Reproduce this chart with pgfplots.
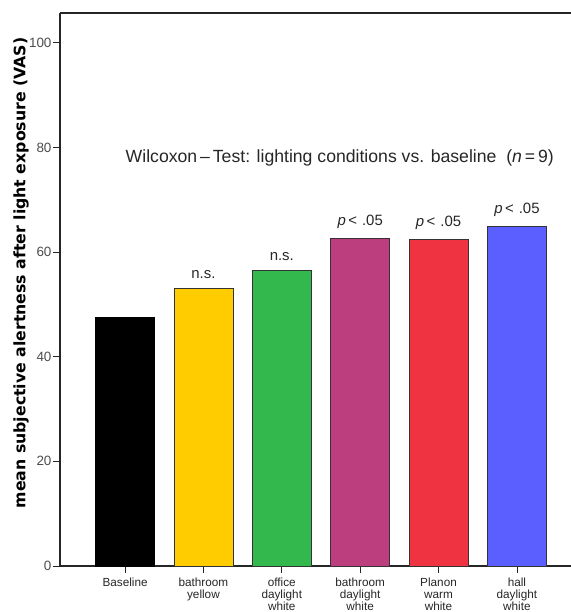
\documentclass[border=0pt]{standalone}
\usepackage{pgfplots}
\pgfplotsset{compat=1.18}
\usepackage{fontspec}
\setmainfont{Liberation Sans}
\newfontfamily\labfont{DejaVu Sans}
\definecolor{cyel}{HTML}{FFCC00}
\definecolor{cgrn}{HTML}{32B84C}
\definecolor{cmag}{HTML}{BD3E7E}
\definecolor{cred}{HTML}{EF3340}
\definecolor{cblu}{HTML}{5B5FFF}
\begin{document}
\begin{tikzpicture}
\useasboundingbox (-60bp,-46bp) rectangle (511bp,566bp);
\clip (-60bp,-46bp) rectangle (511bp,566bp);
\begin{axis}[
  at={(0,0)}, anchor=south west,
  scale only axis, width=511bp, height=553bp,
  xmin=-0.83, xmax=5.69, ymin=0, ymax=105.7,
  axis x line=bottom, axis y line=left,
  axis line style={-, line width=1.3pt, black!85},
  ytick={0,20,40,60,80,100},
  xtick={0,1,2,3,4,5},
  xticklabels={Baseline, bathroom\\yellow, office\\daylight\\white, bathroom\\daylight\\white, Planon\\warm\\white, hall\\daylight\\white},
  x tick label style={font=\fontsize{11.8}{12.4}\selectfont, align=center, text=black!85, yshift=-1bp},
  y tick label style={font=\fontsize{13.5}{15}\selectfont, text=black!70, xshift=2bp},
  /pgf/number format/assume math mode=true,
  tick style={black!85, line width=0.8pt},
  major tick length=7bp,
  tick align=outside,
  ylabel={\labfont\bfseries mean subjective alertness after light exposure (VAS)},
  ylabel style={font=\fontsize{15.8}{17}\selectfont, at={(axis description cs:-0.076,0.53)}, anchor=center},
  ybar, bar width=0.753, bar shift=0pt,
  every axis plot/.append style={draw=black!80, line width=0.7pt},
  clip=false,
]
\addplot[fill=black, draw=black] coordinates {(0,47.5)};
\addplot[fill=cyel] coordinates {(1,53.05)};
\addplot[fill=cgrn] coordinates {(2,56.5)};
\addplot[fill=cmag] coordinates {(3,62.6)};
\addplot[fill=cred] coordinates {(4,62.4)};
\addplot[fill=cblu] coordinates {(5,64.9)};
\draw[line width=1.3pt, black!85] (rel axis cs:0,1) -- (rel axis cs:1.05,1);
\begin{scope}[every node/.style={font=\fontsize{15}{17}\selectfont, text=black!85}]
\node[anchor=south] at (axis cs:1,54.3) {n.s.};
\node[anchor=south] at (axis cs:2,57.7) {n.s.};
\node[anchor=south] at (axis cs:3,63.8) {\textit{p}\,<\,\,.05};
\node[anchor=south] at (axis cs:4,63.6) {\textit{p}\,<\,\,.05};
\node[anchor=south] at (axis cs:5,66.1) {\textit{p}\,<\,\,.05};
\node[font=\fontsize{17.7}{19}\selectfont] at (axis cs:2.74,77.9) {Wilcoxon\,–\,Test: lighting conditions vs. baseline~ (\textit{n}\,=\,9)};
\end{scope}
\end{axis}
\end{tikzpicture}
\end{document}
